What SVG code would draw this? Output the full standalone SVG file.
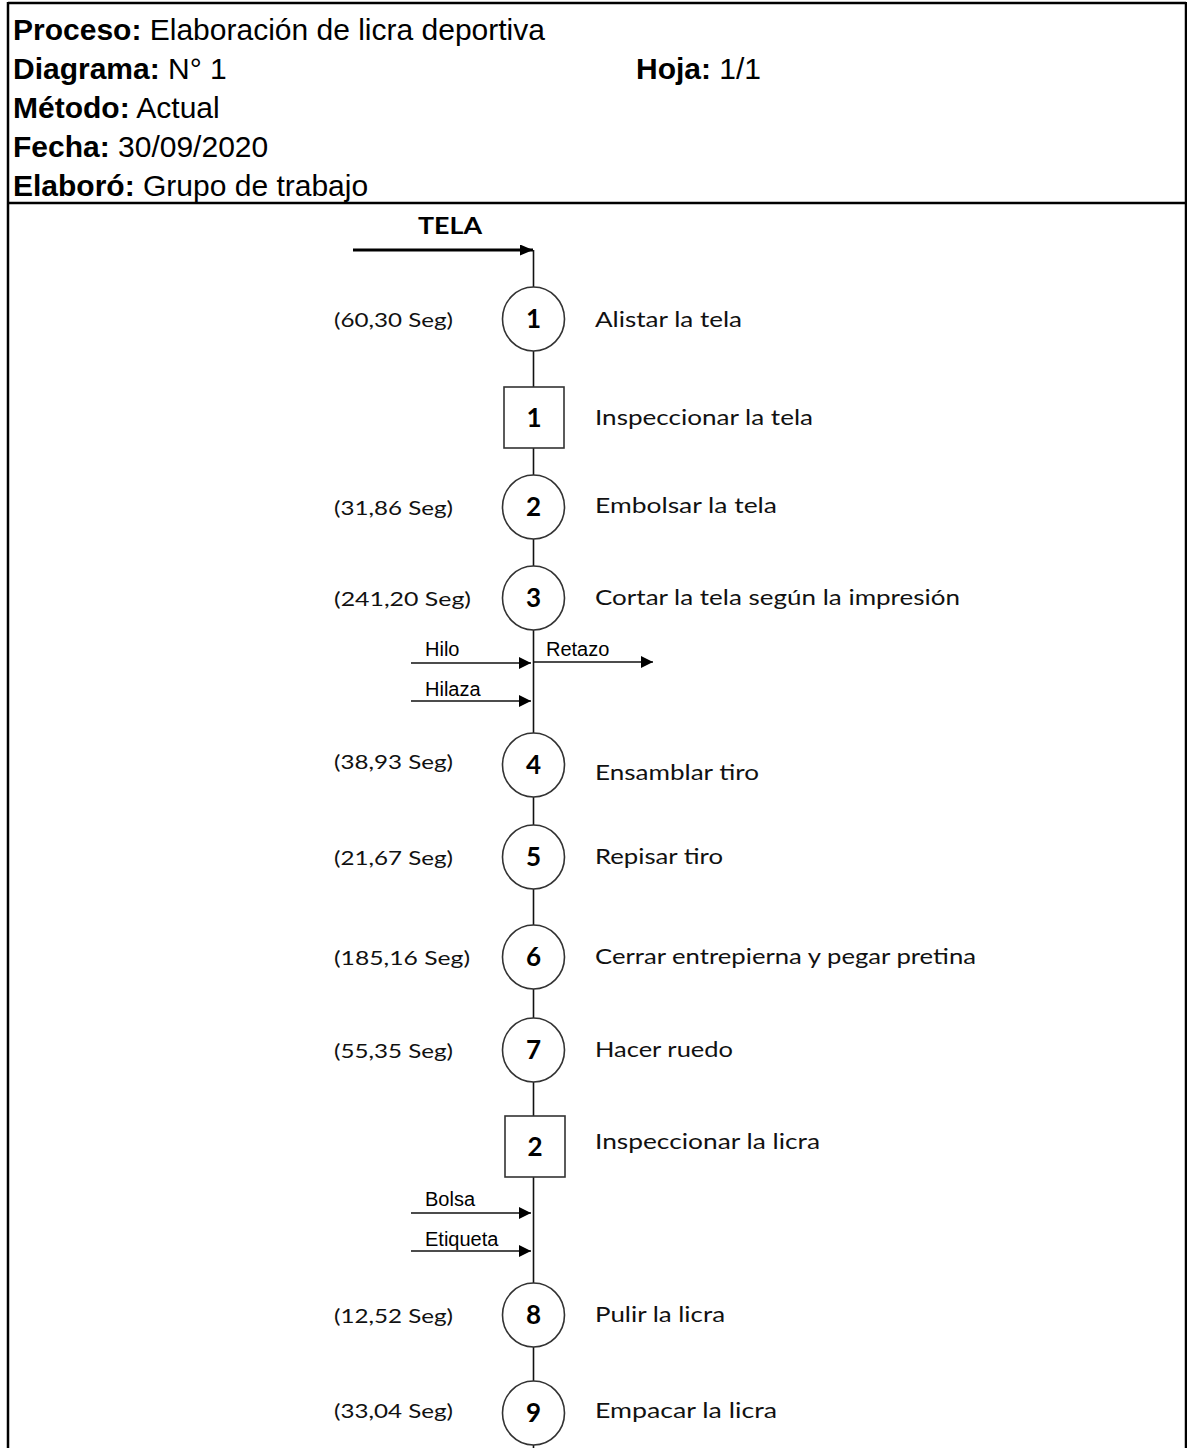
<svg xmlns="http://www.w3.org/2000/svg" width="1187" height="1448" viewBox="0 0 1187 1448">
<style>
.hdr{font-family:"Liberation Sans",Arial,sans-serif;font-size:30px;fill:#000}
.b{font-weight:bold}
.frame{fill:none;stroke:#000;stroke-width:2.5}
.node{fill:#fff;stroke:#333;stroke-width:1.6}
.num{font-family:Lato,"Open Sans",sans-serif;font-weight:bold;font-size:26px;fill:#000;text-anchor:middle}
.desc{font-family:Lato,"Open Sans",sans-serif;font-size:22px;fill:#111}
.seg{font-family:Lato,"Open Sans",sans-serif;font-size:19px;fill:#111}
.lbl{font-family:"Liberation Sans",Arial,sans-serif;font-size:20px;fill:#000}
.ln{stroke:#111;stroke-width:1.6;fill:none}
.tela{font-family:Lato,"Open Sans",sans-serif;font-weight:bold;font-size:23px;fill:#000}
</style>
<defs>
<marker id="ah" markerUnits="userSpaceOnUse" markerWidth="14" markerHeight="12" refX="12" refY="6" orient="auto">
<path d="M0,0 L12,6 L0,12 z" fill="#000"/>
</marker>
<marker id="ahb" markerUnits="userSpaceOnUse" markerWidth="14" markerHeight="12" refX="13" refY="5.5" orient="auto">
<path d="M0,0 L13,5.5 L0,11 z" fill="#000"/>
</marker>
</defs>
<rect width="1187" height="1448" fill="#fff"/>
<g id="frame">
<line class="frame" x1="8" y1="3" x2="1186" y2="3"/>
<line class="frame" x1="8" y1="2" x2="8" y2="1448"/>
<line class="frame" x1="1186" y1="2" x2="1186" y2="1448"/>
<line class="frame" x1="8" y1="203" x2="1186" y2="203"/>
</g>
<g id="header">
<text class="hdr" x="13" y="40"><tspan class="b">Proceso:</tspan> Elaboración de licra deportiva</text>
<text class="hdr" x="13" y="79"><tspan class="b">Diagrama:</tspan> N° 1</text>
<text class="hdr" x="636" y="79"><tspan class="b">Hoja:</tspan> 1/1</text>
<text class="hdr" x="13" y="118"><tspan class="b">Método:</tspan> Actual</text>
<text class="hdr" x="13" y="157"><tspan class="b">Fecha:</tspan> 30/09/2020</text>
<text class="hdr" x="13" y="196"><tspan class="b">Elaboró:</tspan> Grupo de trabajo</text>
</g>
<g id="connectors">
<line x1="353" y1="250" x2="533" y2="250" stroke="#000" stroke-width="3" marker-end="url(#ahb)"/>
<line class="ln" x1="533.5" y1="250" x2="533.5" y2="287"/>
<line class="ln" x1="533.5" y1="351" x2="533.5" y2="387"/>
<line class="ln" x1="533.5" y1="448" x2="533.5" y2="475"/>
<line class="ln" x1="533.5" y1="539" x2="533.5" y2="566"/>
<line class="ln" x1="533.5" y1="630" x2="533.5" y2="733"/>
<line class="ln" x1="533.5" y1="797" x2="533.5" y2="825"/>
<line class="ln" x1="533.5" y1="889" x2="533.5" y2="925"/>
<line class="ln" x1="533.5" y1="989" x2="533.5" y2="1018"/>
<line class="ln" x1="533.5" y1="1082" x2="533.5" y2="1116"/>
<line class="ln" x1="533.5" y1="1177" x2="533.5" y2="1283"/>
<line class="ln" x1="533.5" y1="1347" x2="533.5" y2="1381"/>
<line class="ln" x1="533.5" y1="1445" x2="533.5" y2="1448"/>
<line class="ln" x1="411" y1="663" x2="531" y2="663" marker-end="url(#ah)"/>
<line class="ln" x1="534" y1="662" x2="653" y2="662" marker-end="url(#ah)"/>
<line class="ln" x1="411" y1="701" x2="531" y2="701" marker-end="url(#ah)"/>
<line class="ln" x1="411" y1="1213" x2="531" y2="1213" marker-end="url(#ah)"/>
<line class="ln" x1="411" y1="1251" x2="531" y2="1251" marker-end="url(#ah)"/>
</g>
<g id="flow-labels">
<text class="tela" x="418" y="234" textLength="64" lengthAdjust="spacingAndGlyphs">TELA</text>
<text class="lbl" x="425" y="656">Hilo</text>
<text class="lbl" x="546" y="656">Retazo</text>
<text class="lbl" x="425" y="696">Hilaza</text>
<text class="lbl" x="425" y="1206">Bolsa</text>
<text class="lbl" x="425" y="1246">Etiqueta</text>
</g>
<g id="op1"><ellipse class="node" cx="533.5" cy="319" rx="31" ry="32"/><text class="num" x="533.5" y="328">1</text>
<text class="seg" x="334" y="327" textLength="119" lengthAdjust="spacingAndGlyphs">(60,30 Seg)</text>
<text class="desc" x="595" y="327" textLength="147" lengthAdjust="spacingAndGlyphs">Alistar la tela</text></g>
<g id="insp1"><rect class="node" x="504" y="387" width="60" height="61"/><text class="num" x="534" y="427">1</text>
<text class="desc" x="595" y="425" textLength="218" lengthAdjust="spacingAndGlyphs">Inspeccionar la tela</text></g>
<g id="op2"><ellipse class="node" cx="533.5" cy="507" rx="31" ry="32"/><text class="num" x="533.5" y="516">2</text>
<text class="seg" x="334" y="515" textLength="119" lengthAdjust="spacingAndGlyphs">(31,86 Seg)</text>
<text class="desc" x="595" y="513" textLength="182" lengthAdjust="spacingAndGlyphs">Embolsar la tela</text></g>
<g id="op3"><ellipse class="node" cx="533.5" cy="598" rx="31" ry="32"/><text class="num" x="533.5" y="607">3</text>
<text class="seg" x="334" y="606" textLength="137" lengthAdjust="spacingAndGlyphs">(241,20 Seg)</text>
<text class="desc" x="595" y="605" textLength="365" lengthAdjust="spacingAndGlyphs">Cortar la tela según la impresión</text></g>
<g id="op4"><ellipse class="node" cx="533.5" cy="765" rx="31" ry="32"/><text class="num" x="533.5" y="774">4</text>
<text class="seg" x="334" y="769" textLength="119" lengthAdjust="spacingAndGlyphs">(38,93 Seg)</text>
<text class="desc" x="595" y="780" textLength="164" lengthAdjust="spacingAndGlyphs">Ensamblar tiro</text></g>
<g id="op5"><ellipse class="node" cx="533.5" cy="857" rx="31" ry="32"/><text class="num" x="533.5" y="866">5</text>
<text class="seg" x="334" y="865" textLength="119" lengthAdjust="spacingAndGlyphs">(21,67 Seg)</text>
<text class="desc" x="595" y="864" textLength="128" lengthAdjust="spacingAndGlyphs">Repisar tiro</text></g>
<g id="op6"><ellipse class="node" cx="533.5" cy="957" rx="31" ry="32"/><text class="num" x="533.5" y="966">6</text>
<text class="seg" x="334" y="965" textLength="136" lengthAdjust="spacingAndGlyphs">(185,16 Seg)</text>
<text class="desc" x="595" y="964" textLength="381" lengthAdjust="spacingAndGlyphs">Cerrar entrepierna  y pegar pretina</text></g>
<g id="op7"><ellipse class="node" cx="533.5" cy="1050" rx="31" ry="32"/><text class="num" x="533.5" y="1059">7</text>
<text class="seg" x="334" y="1058" textLength="119" lengthAdjust="spacingAndGlyphs">(55,35 Seg)</text>
<text class="desc" x="595" y="1057" textLength="138" lengthAdjust="spacingAndGlyphs">Hacer ruedo</text></g>
<g id="insp2"><rect class="node" x="505" y="1116" width="60" height="61"/><text class="num" x="535" y="1156">2</text>
<text class="desc" x="595" y="1149" textLength="225" lengthAdjust="spacingAndGlyphs">Inspeccionar la licra</text></g>
<g id="op8"><ellipse class="node" cx="533.5" cy="1315" rx="31" ry="32"/><text class="num" x="533.5" y="1324">8</text>
<text class="seg" x="334" y="1323" textLength="119" lengthAdjust="spacingAndGlyphs">(12,52 Seg)</text>
<text class="desc" x="595" y="1322" textLength="130" lengthAdjust="spacingAndGlyphs">Pulir la licra</text></g>
<g id="op9"><ellipse class="node" cx="533.5" cy="1413" rx="31" ry="32"/><text class="num" x="533.5" y="1422">9</text>
<text class="seg" x="334" y="1418" textLength="119" lengthAdjust="spacingAndGlyphs">(33,04 Seg)</text>
<text class="desc" x="595" y="1418" textLength="182" lengthAdjust="spacingAndGlyphs">Empacar la licra</text></g>
</svg>
